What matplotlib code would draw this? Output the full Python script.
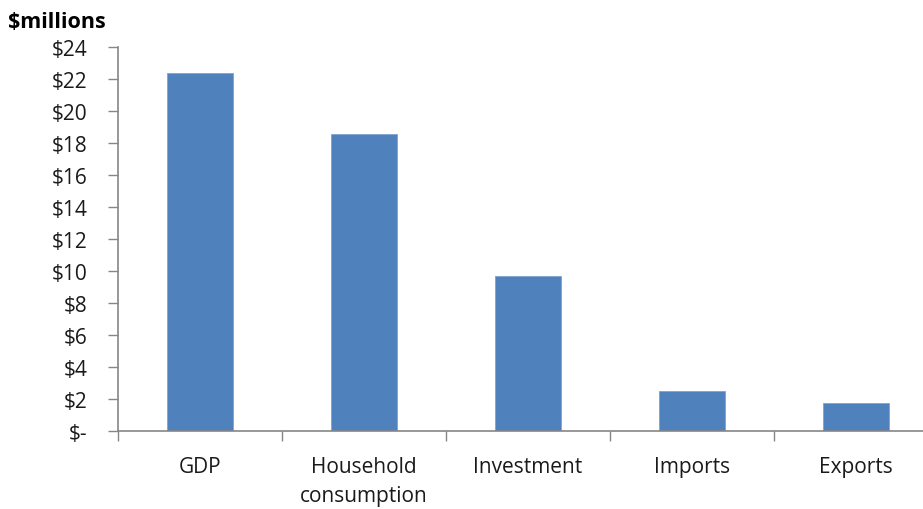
import matplotlib
matplotlib.use("Agg")
import matplotlib.pyplot as plt
from matplotlib.ticker import FuncFormatter

categories = ["GDP", "Household\nconsumption", "Investment", "Imports", "Exports"]
values = [22.4, 18.6, 9.7, 2.5, 1.75]
y_ticks = [0, 2, 4, 6, 8, 10, 12, 14, 16, 18, 20, 22, 24]

plt.rcParams['font.family'] = ['Open Sans', 'DejaVu Sans']

fig = plt.figure(figsize=(9.23, 5.10), dpi=100)
ax = fig.add_axes([117.7/923, 1-431.7/510, (937.7-117.7)/923, (431.7-48.3)/510])

x = list(range(len(categories)))
ax.bar(x, values, width=0.4, color="#4F81BD", edgecolor="#7FA3D0", linewidth=0.6, zorder=2)

ax.set_xlim(-0.5, 4.5)
ax.set_ylim(0, 24)
ax.set_yticks(y_ticks)
ax.yaxis.set_major_formatter(FuncFormatter(lambda v, p: "$-" if v == 0 else f"${int(v)}"))
ax.set_xticks([i - 0.5 for i in range(len(categories))] + [4.5])
ax.set_xticklabels([])
ax.set_xticks(x, minor=True)
ax.set_xticklabels(categories, minor=True, fontsize=15, color="#1a1a1a", linespacing=1.55, va="top")
ax.tick_params(axis="x", which="minor", length=0, pad=18)
ax.tick_params(axis="x", which="major", length=7, width=1, color="#868686", direction="out")
ax.tick_params(axis="y", length=7, width=1, color="#868686", labelsize=15, labelcolor="#1a1a1a", pad=15)

for s in ["top", "right"]:
    ax.spines[s].set_visible(False)
for s in ["left", "bottom"]:
    ax.spines[s].set_color("#868686")
    ax.spines[s].set_linewidth(1.2)

fig.text(8/923, 1-22/510, "$millions", fontsize=15.5, fontweight="bold", color="black", va="center", ha="left")

fig.savefig("out.png", dpi=100)
